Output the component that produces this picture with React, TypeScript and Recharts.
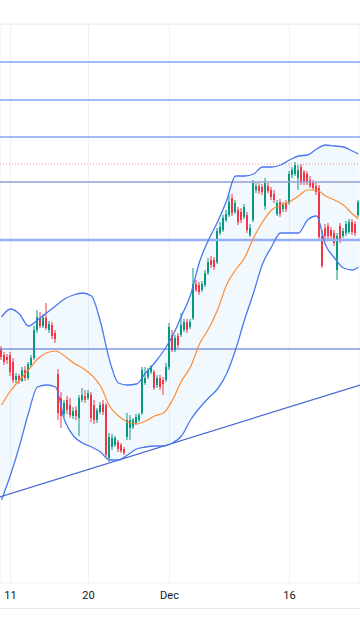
import {
  ComposedChart,
  Bar,
  Line,
  Area,
  XAxis,
  YAxis,
  CartesianGrid,
  ReferenceLine,
} from "recharts";

// candles, one per slot (price units are arbitrary, axis is off-screen)
const opens = [
  250, 245, 243, 245, 238, 220, 224, 219, 230, 222,
  235, 242, 270, 282, 274, 282, 270, 275, 267, 226,
  202, 186, 200, 195, 184, 190, 182, 200, 204, 202,
  205, 195, 180, 188, 196, 195, 142, 153, 155, 158,
  155, 151, 163, 172, 173, 177, 180, 187, 217, 223,
  228, 228, 215, 222, 220, 220, 233, 265, 250, 264,
  265, 270, 278, 273, 282, 316, 315, 310, 315, 327,
  340, 340, 338, 367, 370, 380, 385, 402, 388, 390,
  388, 383, 385, 365, 380, 410, 414, 413, 394, 414,
  410, 406, 386, 398, 391, 397, 397, 425, 426, 422,
  433, 428, 426, 420, 417, 414, 412, 364, 372, 374,
  370, 367, 330, 374, 364, 367, 368, 378, 376, 385,
];
const highs = [
  254, 248, 246, 248, 242, 227, 226, 233, 234, 238,
  245, 274, 290, 288, 286, 297, 279, 278, 270, 231,
  208, 200, 204, 202, 193, 194, 205, 212, 210, 210,
  208, 200, 192, 198, 200, 197, 167, 166, 164, 160,
  157, 153, 187, 185, 182, 186, 187, 233, 233, 232,
  235, 230, 225, 225, 223, 237, 277, 270, 265, 267,
  287, 281, 281, 281, 332, 320, 318, 319, 330, 342,
  344, 343, 372, 378, 385, 390, 405, 406, 400, 393,
  392, 396, 388, 376, 420, 417, 417, 416, 422, 417,
  413, 410, 400, 401, 398, 400, 429, 433, 438, 435,
  436, 430, 429, 424, 420, 417, 415, 370, 376, 377,
  373, 370, 367, 377, 372, 379, 381, 381, 379, 400,
];
const lows = [
  240, 235, 236, 224, 217, 217, 216, 218, 219, 220,
  233, 240, 267, 272, 272, 270, 267, 261, 257, 180,
  172, 183, 186, 182, 181, 180, 164, 198, 197, 200,
  178, 176, 177, 186, 185, 142, 138, 150, 153, 148,
  147, 145, 160, 160, 171, 175, 178, 185, 215, 221,
  226, 210, 212, 210, 205, 218, 230, 248, 248, 252,
  263, 268, 267, 271, 280, 308, 305, 308, 313, 325,
  332, 330, 336, 365, 368, 378, 383, 384, 386, 375,
  377, 381, 367, 363, 378, 407, 406, 405, 390, 407,
  400, 397, 384, 383, 388, 388, 395, 422, 424, 410,
  415, 415, 415, 412, 410, 405, 360, 332, 360, 360,
  361, 354, 320, 357, 362, 364, 366, 365, 364, 383,
];
const closes = [
  243, 238, 240, 228, 220, 224, 219, 230, 222, 236,
  242, 270, 283, 274, 282, 272, 276, 264, 261, 187,
  184, 197, 190, 185, 189, 184, 202, 205, 200, 207,
  182, 180, 190, 195, 188, 145, 163, 162, 162, 151,
  149, 147, 180, 180, 180, 183, 185, 230, 222, 230,
  233, 212, 222, 213, 216, 233, 273, 250, 262, 255,
  275, 278, 270, 278, 316, 310, 308, 316, 327, 338,
  335, 333, 369, 373, 382, 386, 398, 387, 397, 378,
  380, 393, 370, 372, 417, 414, 409, 408, 417, 409,
  403, 400, 397, 386, 395, 391, 426, 430, 435, 430,
  418, 418, 418, 414, 412, 408, 363, 334, 364, 364,
  364, 357, 364, 360, 369, 376, 378, 368, 367, 398,
];

// bollinger bands, sampled every third slot
const bandIdx = [
  0, 3, 6, 9, 12, 15, 18, 21, 24, 27, 30, 33, 36, 39, 42, 45, 48, 51, 54, 57,
  60, 63, 66, 69, 72, 75, 78, 81, 84, 87, 90, 93, 96, 99, 102, 105, 108, 111,
  114, 117, 119,
];
const upperBand = [
  283, 291, 286, 274, 280, 287, 294, 301, 305, 307, 304, 278, 240, 217, 215,
  216, 227, 237, 249, 264, 284, 305, 338, 360, 378, 399, 424, 424, 426, 433,
  433, 435, 440, 444, 445, 451, 455, 454, 453, 449, 446,
];
const middleBand = [
  195, 209, 220, 230, 241, 247, 249, 244, 237, 232, 225, 214, 194, 184, 178,
  176, 179, 184, 187, 200, 219, 233, 256, 271, 290, 315, 330, 342, 362, 378,
  390, 395, 398, 404, 410, 410, 404, 400, 395, 386, 381,
];
const lowerBand = [
  100, 125, 154, 187, 213, 215, 213, 180, 164, 157, 153, 148, 140, 140, 145,
  151, 153, 154, 154, 157, 164, 180, 192, 202, 211, 226, 250, 280, 307, 336,
  353, 367, 367, 367, 380, 384, 355, 342, 332, 330, 333,
];

const dateTicks = [3, 29, 56, 96];
const dateLabels = ["11", "20", "Dec", "16"];
const priceGrid = [
  38.8, 71, 103.2, 135.4, 167.6, 199.8, 232, 264.2, 296.4, 328.6, 360.8, 393,
  425.2, 457.4, 489.6, 521.8, 554,
];

const resistanceLevels = [538, 500, 463, 418];
const supportLevel = 360;
const pivotLevel = 251;
const lastPriceLevel = 436;
const smaLevel = 418;
const trendX = [-0.5, 119.5];
const trendY = [103, 215];

const candles = opens.map((open, i) => ({
  i,
  open,
  high: highs[i],
  low: lows[i],
  close: closes[i],
}));
const bands = bandIdx.map((i, k) => ({
  i,
  upper: upperBand[k],
  mid: middleBand[k],
  lower: lowerBand[k],
}));

const GREEN = "#089981";
const RED = "#f23645";
const BAND = "#4a78f0";

const Candle = (props: any) => {
  const { x, y, width, height, payload } = props;
  if (!payload || height == null) return null;
  const { open, close, high, low } = payload;
  const k = high === low ? 0 : height / (high - low);
  const top = y + (high - Math.max(open, close)) * k;
  const bodyH = Math.max(1, Math.abs(open - close) * k);
  const cx = x + width / 2;
  const color = close >= open ? GREEN : RED;
  return (
    <g>
      <line x1={cx} x2={cx} y1={y} y2={y + height} stroke={color} strokeWidth={1} />
      <rect x={x} y={top} width={width} height={bodyH} fill={color} />
    </g>
  );
};

export default function App() {
  return (
    <div style={{ position: "relative", width: 360, height: 640, background: "#fff" }}>
      <style>{`body{margin:0}`}</style>
      <div style={{ position: "absolute", top: 24, left: 0, width: 360, height: 1, background: "#eef0f3" }} />
      <ComposedChart
        width={360}
        height={608}
        data={candles}
        margin={{ top: 24, right: 0, bottom: 0, left: 0 }}
      >
        <CartesianGrid stroke="#eef0f3" />
        <XAxis
          dataKey="i"
          type="number"
          domain={[-0.5, 119.5]}
          allowDataOverflow
          ticks={dateTicks}
          interval={0}
          tickFormatter={(v: number) => dateLabels[dateTicks.indexOf(v)] ?? ""}
          axisLine={false}
          tickLine={false}
          height={25}
          tick={{ fontSize: 11, fill: "#131722", fontFamily: "Roboto, sans-serif" }}
        />
        <YAxis
          type="number"
          domain={[17, 576]}
          allowDataOverflow
          ticks={priceGrid}
          width={0}
          tick={false}
          axisLine={false}
          tickLine={false}
        />
        <Area
          data={bands}
          dataKey={(d: any) => [d.lower, d.upper]}
          type="monotone"
          stroke="none"
          fill="#2196f3"
          fillOpacity={0.06}
          isAnimationActive={false}
        />
        {resistanceLevels.map((v) => (
          <ReferenceLine key={v} y={v} stroke="#86a3f6" strokeWidth={1.6} />
        ))}
        <ReferenceLine y={supportLevel} stroke="#93b0f7" strokeWidth={2.4} />
        <ReferenceLine y={pivotLevel} stroke="#4767cf" strokeWidth={1} />
        <ReferenceLine
          y={lastPriceLevel}
          stroke={RED}
          strokeOpacity={0.55}
          strokeDasharray="1 2"
        />
        <ReferenceLine
          y={smaLevel}
          stroke="#ff9800"
          strokeOpacity={0.7}
          strokeDasharray="1 2"
        />
        <ReferenceLine
          segment={[
            { x: trendX[0], y: trendY[0] },
            { x: trendX[1], y: trendY[1] },
          ]}
          stroke="#4767cf"
          strokeWidth={1.2}
        />
        <Line
          data={bands}
          dataKey="upper"
          type="monotone"
          stroke={BAND}
          strokeWidth={1.3}
          dot={false}
          isAnimationActive={false}
        />
        <Line
          data={bands}
          dataKey="lower"
          type="monotone"
          stroke={BAND}
          strokeWidth={1.3}
          dot={false}
          isAnimationActive={false}
        />
        <Line
          data={bands}
          dataKey="mid"
          type="monotone"
          stroke="#ff8a30"
          strokeWidth={1.2}
          dot={false}
          isAnimationActive={false}
        />
        <Bar
          dataKey={(d: any) => [d.low, d.high]}
          barSize={2}
          shape={<Candle />}
          isAnimationActive={false}
        />
      </ComposedChart>
      <div style={{ position: "absolute", top: 608, left: 0, width: 360, height: 1, background: "#e6e8ec" }} />
    </div>
  );
}
